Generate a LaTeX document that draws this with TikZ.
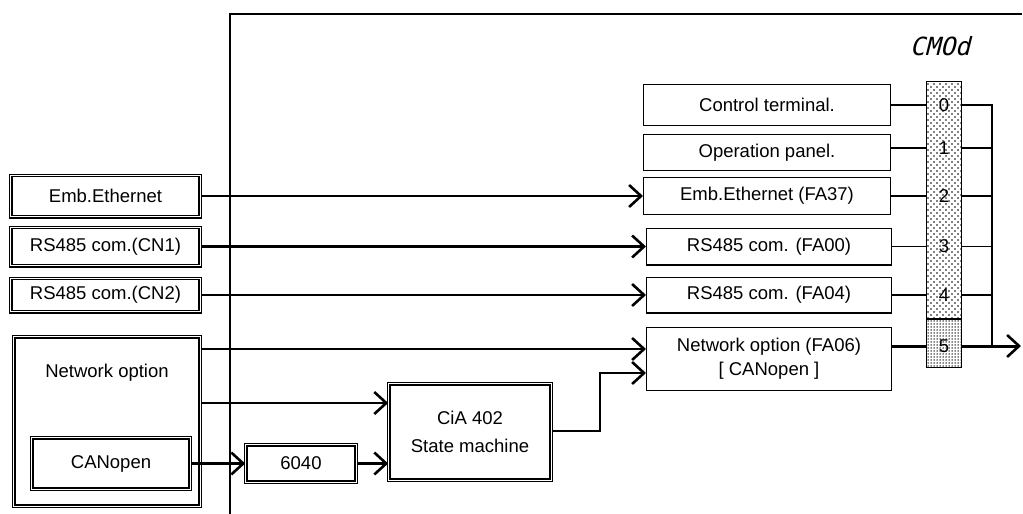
\documentclass[tikz,border=0pt]{standalone}
\usepackage{fontspec}
\setmainfont{Liberation Sans}
\newfontfamily\segfont{DejaVu Sans Mono}[FakeSlant=0.25]
\usetikzlibrary{arrows.meta,patterns}
\pgfdeclarepatternformonly{sparsedots}{\pgfqpoint{-1pt}{-1pt}}{\pgfqpoint{7pt}{7pt}}{\pgfqpoint{6pt}{6pt}}{%
  \pgfpathcircle{\pgfqpoint{1pt}{1pt}}{0.8pt}%
  \pgfpathcircle{\pgfqpoint{4pt}{4pt}}{0.8pt}%
  \pgfusepath{fill}}
\pgfdeclarepatternformonly{densedots}{\pgfqpoint{-1pt}{-1pt}}{\pgfqpoint{4pt}{4pt}}{\pgfqpoint{3pt}{3pt}}{%
  \pgfpathcircle{\pgfqpoint{1pt}{1pt}}{0.75pt}%
  \pgfusepath{fill}}
\begin{document}
\begin{tikzpicture}[x=1pt,y=-1pt,
  every node/.style={font=\fontsize{18.5}{22}\selectfont, inner sep=0pt},
  dbox/.style={draw, line width=1.4pt, double, double distance=1.0pt, rectangle, align=center},
  sbox/.style={draw, line width=1.4pt, rectangle, align=center},
  conn/.style={line width=2.8pt, -{Straight Barb[length=12pt,width=22pt,line width=2.6pt]}},
  thinconn/.style={line width=1.4pt, -{Straight Barb[length=12pt,width=22pt,line width=2.6pt]}},
  thinline/.style={line width=1.3pt},
  thickline/.style={line width=3pt}]
\useasboundingbox (0,0) rectangle (1023,514);

% frame
\coordinate (f1) at (230,514);
\coordinate (f2) at (230,14);
\coordinate (f3) at (1022,14);
\draw[line width=1.4pt] (f1) -- (f2) -- (f3);

% display label
\node[font=\segfont\fontsize{25}{25}\selectfont] (cmod) at (940,46) {CMOd};

% left double boxes
\node[dbox, minimum width=189.2, minimum height=41.2] (le) at (105.5,196) {Emb.Ethernet};
\node[dbox, minimum width=189.2, minimum height=38.2] (lc1) at (105.5,246.5) {RS485 com.(CN1)};
\node[dbox, minimum width=189.2, minimum height=33.2] (lc2) at (105.5,295) {RS485 com.(CN2)};
\node[dbox, minimum width=186.2, minimum height=169.2] (netopt) at (107,421.5) {};
\node (netoptlbl) at (107,373) {Network option};
\node[dbox, minimum width=158.2, minimum height=51.2] (canopen) at (111,463.5) {CANopen};
\node[dbox, minimum width=110.2, minimum height=37.2] (n6040) at (301,463.5) {6040};
\node[dbox, minimum width=162.2, minimum height=96.2, font=\fontsize{18.5}{28}\selectfont] (cia) at (470,432) {CiA 402\\State machine};

% right single boxes
\node[sbox, minimum width=246.6, minimum height=40.6] (ct) at (767,105) {Control terminal.};
\node[sbox, minimum width=246.6, minimum height=35.6] (op) at (767,152.5) {Operation panel.};
\node[sbox, minimum width=246.6, minimum height=36.6] (fa37) at (767,196) {Emb.Ethernet (FA37)};
\node[sbox, minimum width=244.6, minimum height=36.6] (fa00) at (769,246.5) {RS485 com. (FA00)};
\node[sbox, minimum width=244.6, minimum height=35.6] (fa04) at (769,295) {RS485 com. (FA04)};
\node[sbox, minimum width=244.6, minimum height=62.6, font=\fontsize{18.5}{24}\selectfont] (fa06) at (769,359) {Network option (FA06)\\{}[ CANopen ]};

% selector column
\node[draw, line width=1.4pt, pattern=sparsedots, minimum width=34.6, minimum height=236.6] (selA) at (944,200) {};
\node[draw, line width=1.4pt, pattern=densedots, minimum width=34.6, minimum height=47.6] (selB) at (944,343.5) {};
\node (s0) at (944,105) {0};
\node (s1) at (944,148) {1};
\node (s2) at (944,196) {2};
\node (s3) at (944,246.5) {3};
\node (s4) at (944,295) {4};
\node (s5) at (944,346) {5};

% lines into selector
\draw[thinline] (ct.east) -- (ct.east -| selA.west);
\draw[thinline] (op.east |- s1) -- (s1 -| selA.west);
\draw[thinline] (fa37.east) -- (fa37.east -| selA.west);
\draw[thinline] (fa00.east) -- (fa00.east -| selA.west);
\draw[thinline] (fa04.east) -- (fa04.east -| selA.west);
\draw[thickline] (fa06.east |- s5) -- (s5 -| selB.west);

% bus on the right
\coordinate (bt) at (992,105);
\coordinate (bb) at (992,346);
\coordinate (out) at (1021,346);
\draw[thinline] (selA.east |- s0) -- (bt) -- (bb);
\draw[thinline] (selA.east |- s1) -- (s1 -| bt);
\draw[thinline] (selA.east |- s2) -- (s2 -| bt);
\draw[thinline] (selA.east |- s3) -- (s3 -| bt);
\draw[thinline] (selA.east |- s4) -- (s4 -| bt);
\draw[line width=3pt, -{Straight Barb[length=12pt,width=22pt,line width=2.6pt]}] (selB.east |- s5) -- (out);

% connectors
\draw[conn] (le.east) -- (le.east -| fa37.west);
\draw[conn] (lc1.east) -- (lc1.east -| fa00.west);
\draw[conn] (lc2.east) -- (lc2.east -| fa04.west);
\coordinate (ya) at (0,349);
\coordinate (yb) at (0,403);
\coordinate (yc) at (0,431);
\coordinate (yd) at (0,373);
\coordinate (bend) at (600,0);
\draw[conn] (netopt.east |- ya) -- (fa06.west |- ya);
\draw[conn] (netopt.east |- yb) -- (cia.west |- yb);
\draw[conn] (canopen.east) -- (n6040.west);
\draw[conn] (n6040.east) -- (n6040.east -| cia.west);
\draw[thinconn] (cia.east |- yc) -- (bend |- yc) -- (bend |- yd) -- (fa06.west |- yd);
\end{tikzpicture}
\end{document}
